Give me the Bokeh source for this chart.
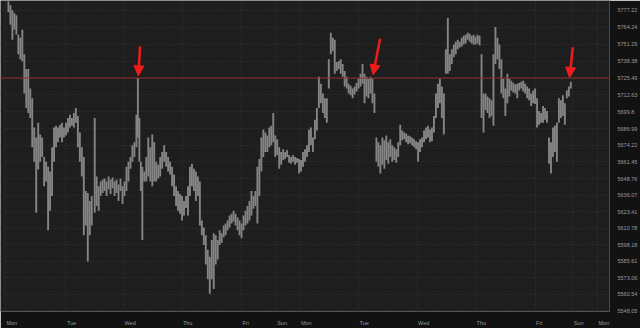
from bokeh.plotting import figure
from bokeh.models import (Range1d, FixedTicker, Span, Arrow, NormalHead, Label,
                          ColumnDataSource)
from bokeh.embed import file_html
from bokeh.resources import INLINE

# ---------------- data ----------------
day_t = [5, 66, 124, 183, 243, 278, 302, 361, 420, 479, 539, 577, 602]
day_labels = ["Mon", "Tue", "Wed", "Thu", "Fri", "Sun", "Mon",
              "Tue", "Wed", "Thu", "Fri", "Sun", "Mon"]

price_ticks = [5548.05, 5560.54, 5573.06, 5585.61, 5598.18, 5610.78, 5623.41,
               5636.07, 5648.76, 5661.45, 5674.22, 5686.99, 5699.8, 5712.63,
               5725.49, 5738.38, 5751.29, 5764.24, 5777.22]
price_labels = ["5548.05", "5560.54", "5573.06", "5585.61", "5598.18", "5610.78",
                "5623.41", "5636.07", "5648.76", "5661.45", "5674.22", "5686.99",
                "5699.8", "5712.63", "5725.49", "5738.38", "5751.29", "5764.24",
                "5777.22"]

bar_t = [
    8, 10, 12, 14, 16, 18, 20, 22, 24, 26,
    28, 30, 32, 34, 36, 38, 40, 42, 44, 46,
    48, 50, 52, 54, 56, 58, 60, 62, 64, 66,
    68, 70, 72, 74, 76, 78, 80, 82, 84, 86,
    88, 90, 92, 95, 97, 99, 101, 103, 105, 107,
    109, 111, 113, 115, 117, 119, 121, 123, 125, 127,
    129, 131, 133, 135, 137, 138.5, 140, 141.5, 143, 145,
    147, 149, 151, 153, 155, 157, 159, 161, 163, 165,
    167, 169, 171, 173, 175, 177, 179, 181, 183, 185,
    187, 189, 191, 193, 195, 197, 199, 201, 203, 205,
    207, 209, 211, 213, 215, 217, 219, 221, 223, 225,
    227, 229, 231, 233, 235, 237, 239, 241, 243, 245,
    247, 249, 251, 253, 255, 257, 259, 261, 263, 265,
    267, 269, 271, 273, 275, 277, 279, 281, 283, 285,
    287, 289, 291, 293, 295, 297, 299, 301, 303, 305,
    307, 309, 311, 313, 315, 317, 319, 321, 323, 325,
    327, 329, 331, 333, 335, 337, 339, 341, 343, 345,
    347, 349, 351, 353, 355, 357, 359, 361, 363, 365,
    367, 369, 371, 373, 375, 377, 379, 381, 383, 385,
    387, 389, 391, 393, 395, 397, 399, 401, 403, 405,
    407, 409, 411, 413, 415, 417, 419, 421, 423, 425,
    427, 429, 431, 433, 435, 437, 439, 441, 443, 445,
    447, 449, 451, 453, 455, 457, 459, 461, 463, 465,
    467, 469, 471, 473, 475, 477, 479, 481, 483, 485,
    487, 489, 491, 493, 495, 497, 499, 501, 503, 505,
    507, 509, 511, 513, 515, 517, 519, 521, 523, 525,
    527, 529, 531, 533, 535, 537, 539, 541, 543, 545,
    547, 549, 551, 553, 555, 557, 559, 561, 563, 565,
    567, 569, 571, 573, 575,
]

bar_high = [
    5784.2, 5781.0, 5777.2, 5775.0, 5773.5, 5758.6, 5756.3, 5762.3, 5743.7, 5732.4,
    5732.4, 5717.5, 5710.0, 5687.7, 5680.2, 5691.4, 5682.4, 5680.2, 5665.3, 5661.6,
    5657.8, 5654.1, 5672.7, 5687.7, 5689.1, 5687.7, 5689.9, 5691.4, 5687.7, 5691.4,
    5695.1, 5697.4, 5695.1, 5698.9, 5702.6, 5696.6, 5684.0, 5672.7, 5665.3, 5639.2,
    5637.7, 5631.7, 5635.4, 5695.1, 5650.3, 5642.9, 5646.6, 5648.1, 5648.8, 5646.6,
    5650.3, 5648.1, 5649.6, 5646.6, 5648.1, 5644.3, 5648.8, 5642.9, 5646.6, 5657.8,
    5661.6, 5665.3, 5674.2, 5676.5, 5697.4, 5725.5, 5695.1, 5661.6, 5657.8, 5654.1,
    5665.3, 5680.2, 5672.7, 5682.4, 5676.5, 5661.6, 5659.3, 5665.3, 5669.0, 5674.2,
    5669.0, 5665.3, 5661.6, 5657.8, 5651.8, 5642.9, 5639.2, 5636.9, 5635.4, 5631.7,
    5635.4, 5642.9, 5657.8, 5660.1, 5656.3, 5654.1, 5650.3, 5646.6, 5616.8, 5611.5,
    5605.5, 5594.4, 5589.1, 5601.8, 5607.0, 5605.5, 5601.8, 5609.3, 5607.0, 5613.0,
    5614.5, 5616.8, 5620.5, 5621.9, 5624.2, 5621.9, 5619.0, 5616.8, 5614.5, 5620.5,
    5624.2, 5627.9, 5631.7, 5639.2, 5635.4, 5639.2, 5657.8, 5663.8, 5680.2, 5686.2,
    5684.0, 5681.7, 5687.7, 5689.1, 5698.9, 5681.7, 5678.7, 5672.7, 5669.0, 5671.2,
    5669.0, 5670.5, 5666.8, 5665.3, 5666.8, 5665.3, 5664.5, 5663.8, 5663.0, 5669.0,
    5671.2, 5674.2, 5686.2, 5687.7, 5680.2, 5693.6, 5702.6, 5726.5, 5721.2, 5713.8,
    5710.0, 5710.0, 5739.9, 5760.1, 5756.3, 5754.8, 5737.7, 5738.4, 5739.9, 5736.2,
    5730.9, 5726.5, 5721.2, 5719.7, 5717.5, 5719.0, 5722.0, 5725.0, 5728.7, 5736.2,
    5728.7, 5726.5, 5725.0, 5726.5, 5725.0, 5713.8, 5680.2, 5676.5, 5674.2, 5680.2,
    5678.0, 5681.7, 5676.5, 5678.7, 5674.2, 5672.7, 5671.2, 5676.5, 5689.9, 5685.4,
    5684.0, 5683.2, 5681.7, 5681.0, 5680.2, 5678.7, 5677.2, 5676.5, 5678.7, 5680.2,
    5685.4, 5687.7, 5689.1, 5686.2, 5687.7, 5696.6, 5713.8, 5721.2, 5725.0, 5719.0,
    5713.8, 5747.4, 5771.3, 5743.7, 5747.4, 5751.1, 5753.3, 5754.8, 5753.3, 5756.3,
    5757.8, 5758.6, 5760.1, 5759.3, 5757.8, 5758.6, 5757.1, 5758.6, 5757.8, 5743.7,
    5713.8, 5713.8, 5711.5, 5710.0, 5708.6, 5743.7, 5764.5, 5756.3, 5751.1, 5739.9,
    5725.0, 5717.5, 5728.7, 5725.0, 5723.5, 5722.0, 5720.5, 5721.2, 5722.0, 5722.7,
    5723.5, 5721.2, 5719.0, 5717.5, 5713.8, 5716.0, 5717.5, 5710.0, 5700.4, 5698.9,
    5704.1, 5702.6, 5700.4, 5680.2, 5676.5, 5687.7, 5689.1, 5691.4, 5710.0, 5708.6,
    5712.3, 5706.3, 5716.0, 5719.0, 5722.7,
]

bar_low = [
    5775.7, 5766.1, 5754.8, 5762.3, 5758.6, 5743.7, 5739.9, 5738.4, 5713.8, 5702.6,
    5698.9, 5695.1, 5672.7, 5661.6, 5622.7, 5655.6, 5661.6, 5665.3, 5642.9, 5646.6,
    5609.3, 5624.2, 5635.4, 5661.6, 5672.7, 5676.5, 5680.2, 5676.5, 5680.2, 5681.7,
    5684.0, 5687.7, 5689.1, 5687.7, 5691.4, 5672.7, 5661.6, 5650.3, 5605.5, 5613.0,
    5585.4, 5605.5, 5613.0, 5622.7, 5627.9, 5624.2, 5635.4, 5637.7, 5639.2, 5635.4,
    5640.7, 5636.9, 5641.4, 5635.4, 5637.7, 5631.7, 5639.2, 5629.4, 5635.4, 5639.2,
    5646.6, 5656.3, 5661.6, 5665.3, 5672.7, 5680.2, 5661.6, 5639.2, 5601.8, 5646.6,
    5646.6, 5650.3, 5646.6, 5642.9, 5646.6, 5646.6, 5648.8, 5650.3, 5656.3, 5661.6,
    5657.8, 5654.1, 5651.8, 5642.9, 5635.4, 5627.9, 5624.2, 5621.9, 5616.8, 5620.5,
    5626.4, 5620.5, 5635.4, 5642.9, 5639.2, 5631.7, 5635.4, 5613.0, 5605.5, 5598.1,
    5583.1, 5572.0, 5560.8, 5572.0, 5564.5, 5583.1, 5586.9, 5598.1, 5599.6, 5604.0,
    5605.5, 5609.3, 5611.5, 5614.5, 5616.0, 5613.0, 5609.3, 5605.5, 5603.3, 5609.3,
    5613.0, 5614.5, 5616.8, 5620.5, 5625.7, 5627.9, 5614.5, 5635.4, 5654.1, 5665.3,
    5669.0, 5669.0, 5672.7, 5674.2, 5676.5, 5665.3, 5666.8, 5656.3, 5659.3, 5663.0,
    5663.8, 5665.3, 5660.8, 5660.1, 5661.6, 5659.3, 5660.8, 5652.6, 5654.1, 5657.8,
    5661.6, 5665.3, 5669.0, 5674.2, 5669.0, 5678.7, 5685.4, 5702.6, 5706.3, 5698.9,
    5695.1, 5691.4, 5717.5, 5743.7, 5745.9, 5728.7, 5730.9, 5732.4, 5728.7, 5726.5,
    5719.0, 5717.5, 5713.8, 5712.3, 5710.0, 5713.0, 5715.3, 5717.5, 5719.0, 5721.2,
    5706.3, 5711.5, 5710.0, 5713.8, 5706.3, 5698.9, 5661.6, 5657.8, 5652.6, 5659.3,
    5656.3, 5663.0, 5660.1, 5665.3, 5661.6, 5663.0, 5660.8, 5665.3, 5674.2, 5678.0,
    5678.7, 5676.5, 5675.0, 5675.8, 5674.2, 5672.7, 5671.2, 5661.6, 5669.0, 5672.7,
    5676.5, 5678.7, 5680.2, 5676.5, 5677.2, 5684.0, 5695.1, 5702.6, 5706.3, 5695.1,
    5682.4, 5728.7, 5728.7, 5730.9, 5736.2, 5741.4, 5743.7, 5747.4, 5748.9, 5749.6,
    5751.1, 5751.9, 5754.8, 5753.3, 5751.9, 5751.1, 5751.1, 5751.9, 5750.4, 5695.1,
    5684.0, 5701.1, 5698.9, 5695.1, 5696.6, 5689.1, 5736.2, 5739.9, 5732.4, 5713.8,
    5710.0, 5696.6, 5706.3, 5711.5, 5716.0, 5714.5, 5713.8, 5710.0, 5716.0, 5717.5,
    5715.3, 5713.8, 5710.0, 5708.6, 5704.1, 5706.3, 5705.6, 5687.7, 5689.9, 5691.4,
    5691.4, 5693.6, 5691.4, 5660.1, 5652.6, 5665.3, 5669.0, 5661.6, 5691.4, 5695.1,
    5696.6, 5689.9, 5710.0, 5711.5, 5717.5,
]

level_line = 5725.5          # horizontal red level
last_price = 5720.9
last_price_text = "5720"

# arrows: (start t, start price) -> (tip t, tip price)
arrow_t0 = [140.7, 382.7, 577.0]
arrow_p0 = [5749.6, 5755.6, 5748.9]
arrow_t1 = [139.0, 375.7, 573.7]
arrow_p1 = [5727.2, 5728.0, 5726.0]

# ---------------- figure ----------------
p = figure(width=640, height=328, output_backend="svg", toolbar_location=None,
           x_range=Range1d(0, 614), y_range=Range1d(5547.3, 5784.7),
           y_axis_location="right",
           min_border_left=0, min_border_top=0, min_border_right=26,
           min_border_bottom=10)
p.background_fill_color = "#1e1e1e"
p.border_fill_color = "#121212"
p.outline_line_color = None

src = ColumnDataSource(dict(t=bar_t, high=bar_high, low=bar_low))
p.vbar(x="t", bottom="low", top="high", width=1.9, source=src,
       fill_color="#858585", line_color=None)

p.add_layout(Span(location=level_line, dimension="width",
                  line_color="#8e2f2f", line_width=1))

red = "#f01c1c"
for x0, y0, x1, y1 in zip(arrow_t0, arrow_p0, arrow_t1, arrow_p1):
    p.add_layout(Arrow(x_start=x0, y_start=y0, x_end=x1, y_end=y1,
                       line_color=red, line_width=2.5,
                       end=NormalHead(size=10, fill_color=red, line_color=red,
                                      line_width=1)))

p.add_layout(Label(x=615.5, y=last_price, text=last_price_text,
                   text_font_size="5.5px", text_color="#f0f0f0",
                   text_baseline="middle", text_align="left",
                   background_fill_color="#808080", border_line_color=None,
                   padding=1))

# y axis (right)
ya = p.yaxis[0]
ya.ticker = FixedTicker(ticks=price_ticks)
ya.major_label_overrides = {v: s for v, s in zip(price_ticks, price_labels)}
ya.major_label_text_font_size = "5.5px"
ya.major_label_text_color = "#9a9a9a"
ya.major_label_text_font = "Liberation Sans"
ya.major_label_standoff = 2
ya.major_tick_line_color = None
ya.minor_tick_line_color = None
ya.axis_line_color = "#4a4a4a"

# x axis: labels left-aligned at each day boundary
em = {"M": .833, "o": .556, "n": .556, "T": .611, "u": .556, "e": .556,
      "W": .944, "d": .556, "h": .556, "F": .611, "r": .333, "i": .222,
      "S": .667}
fs = 5.5
lab_pos = [t + sum(em.get(c, .55) for c in s) * fs / 2 + 1
           for t, s in zip(day_t, day_labels)]
xa = p.xaxis[0]
xa.ticker = FixedTicker(ticks=lab_pos)
xa.major_label_overrides = {v: s for v, s in zip(lab_pos, day_labels)}
xa.major_label_text_font_size = "5.5px"
xa.major_label_text_color = "#9a9a9a"
xa.major_label_text_font = "Liberation Sans"
xa.major_label_standoff = 2
xa.major_tick_line_color = None
xa.minor_tick_line_color = None
xa.axis_line_color = None

p.xgrid.ticker = FixedTicker(ticks=day_t)
p.xgrid.grid_line_color = "#343434"
p.xgrid.grid_line_dash = "1 2"
p.ygrid.grid_line_color = "#343434"
p.ygrid.grid_line_dash = "1 2"

open("out.html", "w").write(file_html(p, INLINE))
